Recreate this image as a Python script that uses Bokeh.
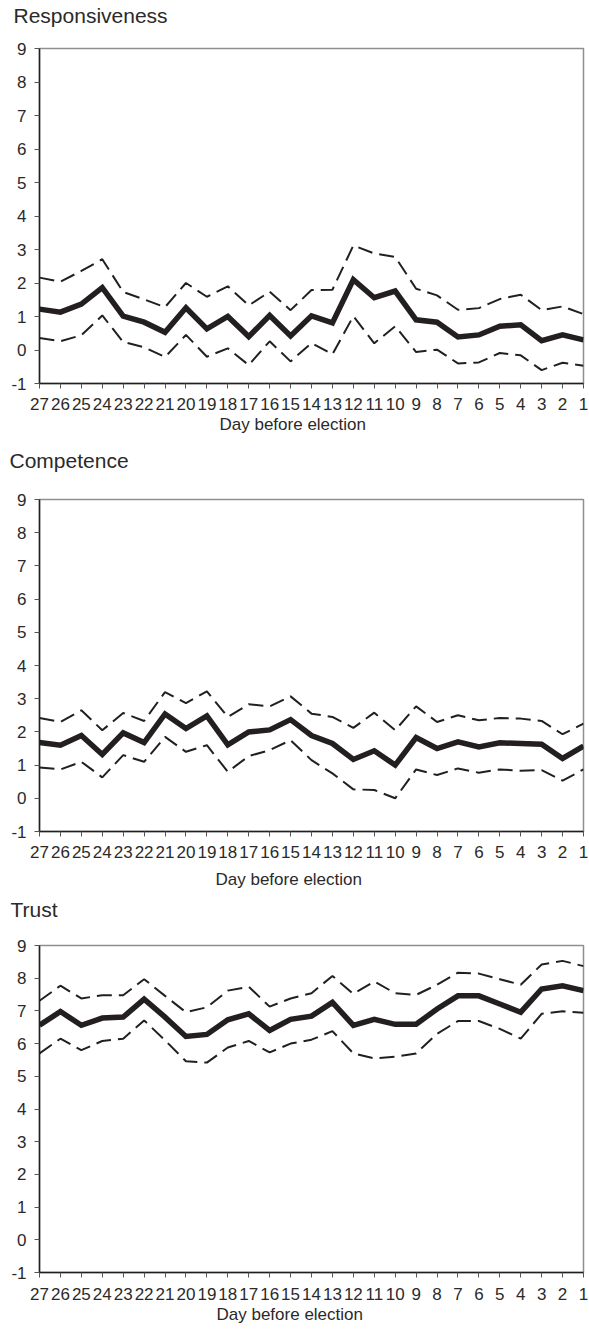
from bokeh.plotting import figure
from bokeh.layouts import column
from bokeh.models import Range1d, FixedTicker, Title
from bokeh.embed import file_html
from bokeh.resources import INLINE

days = list(range(27, 0, -1))
y_ticks = list(range(-1, 10))

resp_mean = [1.22, 1.13, 1.37, 1.86, 1.01, 0.83, 0.53, 1.26, 0.63, 1.00, 0.40, 1.03, 0.42,
             1.02, 0.81, 2.10, 1.56, 1.76, 0.90, 0.83, 0.39, 0.45, 0.71, 0.75, 0.28, 0.45, 0.30]
resp_upper = [2.16, 2.04, 2.36, 2.71, 1.73, 1.51, 1.28, 2.00, 1.59, 1.90, 1.33, 1.74, 1.19,
              1.79, 1.80, 3.12, 2.88, 2.78, 1.83, 1.63, 1.20, 1.25, 1.52, 1.65, 1.19, 1.30, 1.07]
resp_lower = [0.36, 0.26, 0.44, 1.03, 0.24, 0.08, -0.21, 0.45, -0.20, 0.05, -0.45, 0.26, -0.34,
              0.21, -0.13, 1.01, 0.20, 0.71, -0.06, 0.01, -0.40, -0.37, -0.09, -0.16, -0.60, -0.38, -0.47]

comp_mean = [1.68, 1.60, 1.89, 1.32, 1.97, 1.68, 2.54, 2.10, 2.48, 1.61, 2.00, 2.06, 2.37,
             1.89, 1.65, 1.17, 1.43, 1.00, 1.83, 1.50, 1.70, 1.55, 1.67, 1.65, 1.63, 1.20, 1.57]
comp_upper = [2.42, 2.30, 2.65, 2.05, 2.57, 2.33, 3.20, 2.87, 3.22, 2.45, 2.83, 2.77, 3.07,
              2.55, 2.45, 2.12, 2.58, 2.05, 2.77, 2.30, 2.50, 2.35, 2.42, 2.40, 2.33, 1.93, 2.25]
comp_lower = [0.93, 0.87, 1.10, 0.63, 1.30, 1.10, 1.85, 1.40, 1.60, 0.80, 1.27, 1.45, 1.75,
              1.15, 0.75, 0.27, 0.25, 0.00, 0.87, 0.70, 0.90, 0.77, 0.87, 0.83, 0.85, 0.53, 0.87]

trust_mean = [6.56, 6.98, 6.56, 6.78, 6.81, 7.36, 6.81, 6.22, 6.28, 6.73, 6.91, 6.40, 6.74,
              6.84, 7.26, 6.56, 6.74, 6.59, 6.59, 7.06, 7.46, 7.46, 7.21, 6.96, 7.67, 7.77, 7.62]
trust_upper = [7.31, 7.77, 7.38, 7.48, 7.48, 7.97, 7.46, 6.96, 7.11, 7.62, 7.74, 7.13, 7.38,
               7.54, 8.07, 7.52, 7.90, 7.54, 7.49, 7.80, 8.17, 8.14, 7.97, 7.80, 8.42, 8.53, 8.37]
trust_lower = [5.70, 6.15, 5.80, 6.08, 6.15, 6.71, 6.10, 5.46, 5.42, 5.88, 6.08, 5.73, 6.00,
               6.12, 6.38, 5.70, 5.55, 5.60, 5.70, 6.30, 6.69, 6.69, 6.45, 6.15, 6.91, 6.99, 6.94]

FONT = "Liberation Sans"
INK = "#231f20"
TXT = "#2a2a2a"
W = 589
X_LABEL_LEFT = 215
TITLE_LEFT = 9


def make_panel(title, mean, upper, lower, height, left, right, top, bottom,
               title_gap, tick_standoff, xlabel_standoff):
    p = figure(width=W, height=height, output_backend="svg", toolbar_location=None,
               x_range=Range1d(27, 1), y_range=Range1d(-1, 9),
               min_border_left=left, min_border_right=right,
               min_border_top=top, min_border_bottom=bottom)

    p.grid.visible = False
    p.outline_line_color = "#8f8f8f"
    p.outline_line_width = 1.5
    p.background_fill_color = "white"
    p.border_fill_color = "white"

    p.xaxis.ticker = FixedTicker(ticks=days)
    p.yaxis.ticker = FixedTicker(ticks=y_ticks)
    p.yaxis.major_label_overrides = {-1: "-1"}
    for ax in (p.xaxis, p.yaxis):
        ax.axis_line_color = INK
        ax.axis_line_width = 1.5
        ax.major_tick_line_color = "#555555"
        ax.major_tick_line_width = 1
        ax.major_tick_in = 0
        ax.major_tick_out = 5
        ax.minor_tick_line_color = None
        ax.major_label_text_font = FONT
        ax.major_label_text_font_size = "17px"
        ax.major_label_text_color = TXT
    p.xaxis.major_label_standoff = tick_standoff
    p.yaxis.major_label_standoff = 8

    p.add_layout(Title(text="Day before election", align="left", offset=X_LABEL_LEFT - left,
                       text_font=FONT, text_font_size="17px", text_font_style="normal",
                       text_color=TXT, standoff=xlabel_standoff), "below")

    # spacer (nearest the frame) and then the panel heading
    p.add_layout(Title(text=" ", text_font_size="1px", standoff=title_gap), "above")
    p.add_layout(Title(text=title, align="left", offset=TITLE_LEFT - left,
                       text_font=FONT, text_font_size="21px", text_font_style="normal",
                       text_color=TXT, standoff=0), "above")

    p.line(days, upper, line_color=INK, line_width=2, line_dash="15 7")
    p.line(days, lower, line_color=INK, line_width=2, line_dash="15 7")
    p.line(days, mean, line_color=INK, line_width=5.5, line_join="miter")
    return p


p1 = make_panel("Responsiveness", resp_mean, resp_upper, resp_lower,
                height=445, left=35, right=6, top=48, bottom=62,
                title_gap=19, tick_standoff=9, xlabel_standoff=0)
p2 = make_panel("Competence", comp_mean, comp_upper, comp_lower,
                height=450, left=39, right=6, top=54, bottom=64,
                title_gap=25, tick_standoff=9, xlabel_standoff=14)
p3 = make_panel("Trust", trust_mean, trust_upper, trust_lower,
                height=433, left=38, right=4, top=49, bottom=56,
                title_gap=22, tick_standoff=10, xlabel_standoff=0)

layout = column(p1, p2, p3, spacing=0)

open("out.html", "w").write(file_html(layout, INLINE))
